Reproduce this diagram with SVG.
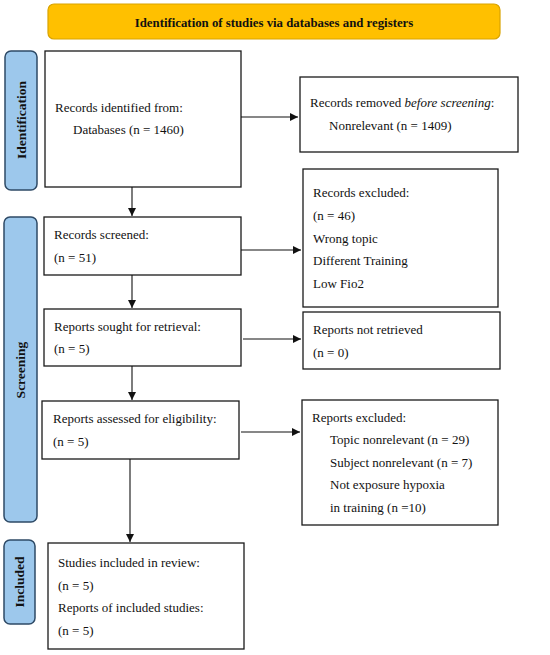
<svg xmlns="http://www.w3.org/2000/svg" width="550" height="655" viewBox="0 0 550 655">
<style>
.box{fill:#fff;stroke:#1a1a1a;stroke-width:1.3}
.side{fill:#9DC8EC;stroke:#2E4A66;stroke-width:1.5}
.t{font-family:"Liberation Serif","Times New Roman",serif;font-size:13px;fill:#111}
.st{font-family:"Liberation Serif","Times New Roman",serif;font-size:13.5px;font-weight:bold;fill:#111}
.ln{stroke:#111;stroke-width:1.1;fill:none}
</style>
<defs>
<marker id="ah" viewBox="0 0 10 10" refX="10" refY="5" markerWidth="8" markerHeight="8" markerUnits="userSpaceOnUse" orient="auto">
<path d="M0,0 L10,5 L0,10 z" fill="#111"/>
</marker>
</defs>
<rect width="550" height="655" fill="#fff"/>
<g id="banner">
<rect x="48" y="4" width="452" height="35" rx="6" fill="#FFC000" stroke="#D9A300" stroke-width="1.2"/>
<text class="st" x="274" y="27" text-anchor="middle" style="font-size:12.8px">Identification of studies via databases and registers</text>
</g>
<g id="lbl-identification">
<rect class="side" x="5" y="51" width="32" height="139" rx="6"/>
<text class="st" transform="translate(26,120) rotate(-90)" text-anchor="middle">Identification</text>
</g>
<g id="lbl-screening">
<rect class="side" x="4" y="217" width="33" height="305" rx="6"/>
<text class="st" transform="translate(25,370) rotate(-90)" text-anchor="middle">Screening</text>
</g>
<g id="lbl-included">
<rect class="side" x="4" y="540" width="31" height="84" rx="6"/>
<text class="st" transform="translate(24,582) rotate(-90)" text-anchor="middle">Included</text>
</g>
<g id="n-identified">
<rect class="box" x="45" y="51" width="196" height="136"/>
<text class="t" x="55" y="112">Records identified from:</text>
<text class="t" x="73" y="134">Databases (n = 1460)</text>
</g>
<g id="n-removed">
<rect class="box" x="300" y="77" width="218" height="75"/>
<text class="t" x="310" y="107">Records removed <tspan font-style="italic">before screening</tspan>:</text>
<text class="t" x="329" y="130">Nonrelevant (n = 1409)</text>
</g>
<g id="n-screened">
<rect class="box" x="44" y="217" width="197" height="58"/>
<text class="t" x="54" y="239">Records screened:</text>
<text class="t" x="54" y="262">(n = 51)</text>
</g>
<g id="n-excluded">
<rect class="box" x="303" y="169" width="195" height="138"/>
<text class="t" x="313" y="197">Records excluded:</text>
<text class="t" x="313" y="220">(n = 46)</text>
<text class="t" x="313" y="243">Wrong topic</text>
<text class="t" x="313" y="265">Different Training</text>
<text class="t" x="313" y="288">Low Fio2</text>
</g>
<g id="n-sought">
<rect class="box" x="44" y="309" width="197" height="57"/>
<text class="t" x="54" y="331">Reports sought for retrieval:</text>
<text class="t" x="54" y="353">(n = 5)</text>
</g>
<g id="n-notretrieved">
<rect class="box" x="303" y="312" width="197" height="57"/>
<text class="t" x="313" y="334">Reports not retrieved</text>
<text class="t" x="313" y="357">(n = 0)</text>
</g>
<g id="n-assessed">
<rect class="box" x="42" y="401" width="197" height="58"/>
<text class="t" x="53" y="423">Reports assessed for eligibility:</text>
<text class="t" x="53" y="446">(n = 5)</text>
</g>
<g id="n-reportsexcluded">
<rect class="box" x="302" y="400" width="196" height="125"/>
<text class="t" x="312" y="422">Reports excluded:</text>
<text class="t" x="330" y="444">Topic nonrelevant (n = 29)</text>
<text class="t" x="330" y="467">Subject nonrelevant (n = 7)</text>
<text class="t" x="330" y="489">Not exposure hypoxia</text>
<text class="t" x="330" y="512">in training (n =10)</text>
</g>
<g id="n-included">
<rect class="box" x="48" y="543" width="196" height="106"/>
<text class="t" x="58" y="567">Studies included in review:</text>
<text class="t" x="58" y="590">(n = 5)</text>
<text class="t" x="58" y="612">Reports of included studies:</text>
<text class="t" x="58" y="635">(n = 5)</text>
</g>
<g id="connectors">
<line class="ln" x1="241" y1="117" x2="298" y2="117" marker-end="url(#ah)"/>
<line class="ln" x1="132" y1="187" x2="132" y2="216" marker-end="url(#ah)"/>
<line class="ln" x1="241" y1="250" x2="301" y2="250" marker-end="url(#ah)"/>
<line class="ln" x1="132" y1="275" x2="132" y2="308" marker-end="url(#ah)"/>
<line class="ln" x1="243" y1="339" x2="301" y2="339" marker-end="url(#ah)"/>
<line class="ln" x1="132" y1="366" x2="132" y2="400" marker-end="url(#ah)"/>
<line class="ln" x1="241" y1="432" x2="300" y2="432" marker-end="url(#ah)"/>
<line class="ln" x1="130" y1="459" x2="130" y2="542" marker-end="url(#ah)"/>
</g>
</svg>
